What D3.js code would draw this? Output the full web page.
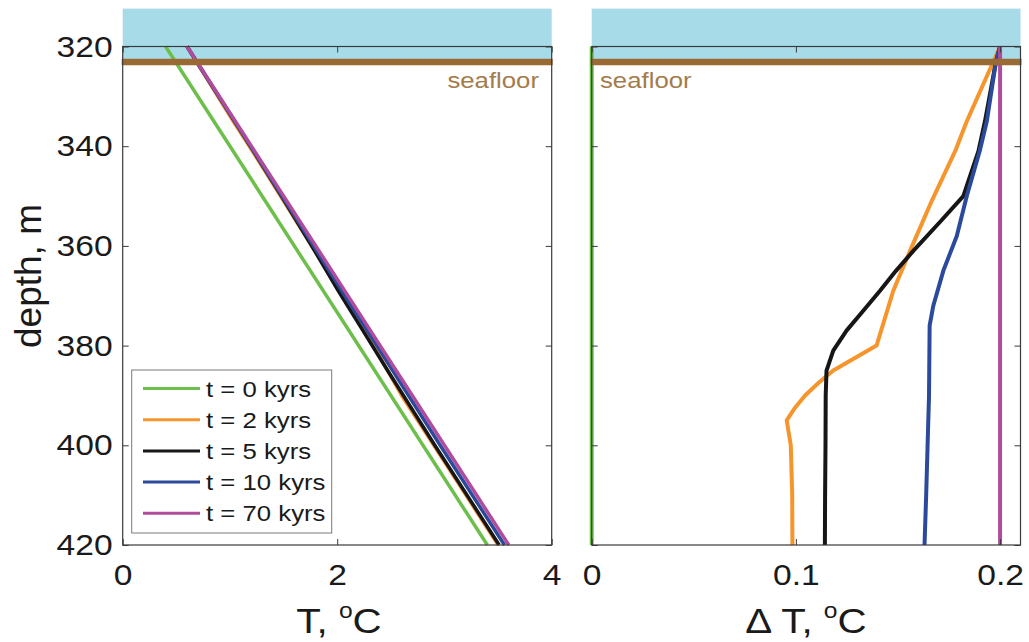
<!DOCTYPE html>
<html>
<head>
<meta charset="utf-8">
<script src="https://cdn.jsdelivr.net/npm/d3@7"></script>
<style>
  html, body { margin: 0; padding: 0; background: #fff; }
  svg { display: block; font-family: "Liberation Sans", Arial, Helvetica, sans-serif; }
</style>
</head>
<body>
<svg id="chart" width="1029" height="642"></svg>
<script>
// ---- data -------------------------------------------------------------
const seriesNames = ["t = 0 kyrs", "t = 2 kyrs", "t = 5 kyrs", "t = 10 kyrs", "t = 70 kyrs"];
const seriesColors = ["#6cbf4a", "#f5952b", "#161616", "#2c4a9c", "#b04c9e"];

// temperature profiles T(z), °C
const depthT0 = [320, 420];
const temp0 = [0.40, 3.40];
const depthT2 = [320, 335, 341, 351, 361, 369, 380, 385, 390, 395, 400, 410, 420];
const temp2 = [0.60, 1.03, 1.21, 1.50, 1.79, 2.02, 2.34, 2.47, 2.60, 2.75, 2.90, 3.20, 3.50];
const depthT5 = [320, 341, 350, 361, 369, 377, 385, 400, 420];
const temp5 = [0.60, 1.22, 1.48, 1.79, 2.01, 2.24, 2.47, 2.91, 3.51];
const depthT10 = [320, 341, 358, 372, 376, 400, 420];
const temp10 = [0.60, 1.22, 1.72, 2.13, 2.25, 2.96, 3.56];
const depthT70 = [320, 420];
const temp70 = [0.60, 3.60];

// temperature anomaly profiles ΔT(z), °C
const depthD0 = [320, 420];
const dTemp0 = [0, 0];
const depthD2 = [320, 335, 341, 351, 361, 369, 380, 385, 387.5, 390, 392.5, 395, 400, 410, 420];
const dTemp2 = [0.2, 0.1837, 0.178, 0.1665, 0.1559, 0.1477, 0.1395, 0.1183, 0.111, 0.1045, 0.0995, 0.0955, 0.0975, 0.0982, 0.0983];
const depthD5 = [320, 323, 335, 341, 350, 355, 361, 365, 369, 373, 377, 381, 385, 390, 400, 410, 420];
const dTemp5 = [0.2, 0.198, 0.1926, 0.1894, 0.182, 0.171, 0.1575, 0.149, 0.1412, 0.133, 0.1248, 0.1183, 0.115, 0.1146, 0.1145, 0.1143, 0.1142];
const depthD10 = [320, 323, 335, 341, 350, 358, 365, 372, 376, 390, 400, 410, 420];
const dTemp10 = [0.2, 0.198, 0.1935, 0.19, 0.1837, 0.1788, 0.1722, 0.1673, 0.1655, 0.1652, 0.1645, 0.1638, 0.163];
const depthD70 = [320, 420];
const dTemp70 = [0.2, 0.2];

const depthTicks = [320, 340, 360, 380, 400, 420];
const tempTicks = [0, 2, 4];
const dTempTicks = [0, 0.1, 0.2];

const waterTop = 312.4;      // depth of upper edge of the water band
const seafloorDepth = 323.1; // seafloor level, m

// ---- layout -----------------------------------------------------------
const SX = 1.12; // horizontal text aspect
const svg = d3.select("#chart");
const yTop = 46.5, yBot = 545;
const panelL = { x0: 122.7, x1: 551.7 };
const panelR = { x0: 591.7, x1: 1020.5 };

const y = d3.scaleLinear().domain([320, 420]).range([yTop, yBot]);
const xL = d3.scaleLinear().domain([0, 4]).range([panelL.x0, panelL.x1]);
const xR = d3.scaleLinear().domain([0, 0.21]).range([panelR.x0, panelR.x1]);

const tempSeries = [
  [depthT0, temp0], [depthT2, temp2], [depthT5, temp5], [depthT10, temp10], [depthT70, temp70]
];
const dTempSeries = [
  [depthD0, dTemp0], [depthD2, dTemp2], [depthD5, dTemp5], [depthD10, dTemp10], [depthD70, dTemp70]
];

function addText(g, x, yy, str, size, anchor, color) {
  return g.append("text")
    .attr("transform", `translate(${x},${yy}) scale(${SX},1)`)
    .attr("text-anchor", anchor)
    .attr("font-size", size)
    .attr("fill", color || "#1a1a1a")
    .text(str);
}

function drawPanel(xs, series, opts) {
  const g = svg.append("g");
  const [xa, xb] = xs.range();

  // water column above seafloor
  g.append("rect")
    .attr("x", xa).attr("width", xb - xa)
    .attr("y", y(waterTop)).attr("height", y(seafloorDepth) - y(waterTop))
    .attr("fill", "#a8dbe8");

  // profiles
  const line = d3.line().x(d => xs(d[1])).y(d => y(d[0]));
  series.forEach(([dep, val], i) => {
    g.append("path")
      .datum(dep.map((d, j) => [d, val[j]]))
      .attr("d", line)
      .attr("fill", "none")
      .attr("stroke", seriesColors[i])
      .attr("stroke-width", opts.lineWidth)
      .attr("stroke-linejoin", "round");
  });

  // seafloor
  g.append("line")
    .attr("x1", xa - 1).attr("x2", xb + 1)
    .attr("y1", y(seafloorDepth)).attr("y2", y(seafloorDepth))
    .attr("stroke", "#9a6a34").attr("stroke-width", 6.5);
  addText(g, opts.sfX, 88, "seafloor", 23, opts.sfAnchor, "#a47b4b");

  // axis box
  g.append("rect")
    .attr("x", xa).attr("y", yTop).attr("width", xb - xa).attr("height", yBot - yTop)
    .attr("fill", "none").attr("stroke", "#3a3a3a").attr("stroke-width", 1.2);

  const tk = 6;
  const styleAxis = a => {
    a.select(".domain").remove();
    a.selectAll(".tick line").attr("stroke", "#3a3a3a").attr("stroke-width", 1);
    a.selectAll(".tick text")
      .attr("font-size", 30)
      .attr("fill", "#1a1a1a")
      .attr("font-family", "Liberation Sans, Arial, sans-serif");
  };

  const bottom = g.append("g").attr("transform", `translate(0,${yBot})`)
    .call(d3.axisBottom(xs).tickValues(opts.xTicks).tickFormat(d3.format("~g"))
      .tickSize(-tk).tickPadding(19));
  styleAxis(bottom);
  bottom.selectAll(".tick text").attr("transform", `scale(${SX},1)`);

  const top = g.append("g").attr("transform", `translate(0,${yTop})`)
    .call(d3.axisTop(xs).tickValues(opts.xTicks).tickFormat("").tickSize(-tk));
  styleAxis(top);

  const left = g.append("g").attr("transform", `translate(${xa},0)`)
    .call(d3.axisLeft(y).tickValues(depthTicks)
      .tickFormat(opts.yLabels ? d3.format("d") : "").tickSize(-tk).tickPadding(9));
  styleAxis(left);
  left.selectAll(".tick text").attr("transform", `scale(${SX},1)`);

  const right = g.append("g").attr("transform", `translate(${xb},0)`)
    .call(d3.axisRight(y).tickValues(depthTicks).tickFormat("").tickSize(-tk));
  styleAxis(right);

  return g;
}

const gL = drawPanel(xL, tempSeries, {
  xTicks: tempTicks, yLabels: true, lineWidth: 3.5, sfX: 539, sfAnchor: "end"
});
const gR = drawPanel(xR, dTempSeries, {
  xTicks: dTempTicks, yLabels: false, lineWidth: 4, sfX: 600, sfAnchor: "start"
});

// axis titles
function degLabel(x, yy, prefix) {
  const t = svg.append("text")
    .attr("transform", `translate(${x},${yy}) scale(${SX},1)`)
    .attr("text-anchor", "middle")
    .attr("font-size", 36)
    .attr("fill", "#1a1a1a");
  t.append("tspan").text(prefix);
  t.append("tspan").attr("font-size", 22).attr("dy", -15).text("o");
  t.append("tspan").attr("dy", 15).text("C");
}
degLabel(339, 633, "T, ");
degLabel(806, 633, "\u0394 T, ");

svg.append("text")
  .attr("transform", `translate(41,276) rotate(-90)`)
  .attr("text-anchor", "middle")
  .attr("font-size", 37)
  .attr("fill", "#1a1a1a")
  .text("depth, m");

// legend
const leg = svg.append("g");
leg.append("rect")
  .attr("x", 131.7).attr("y", 370).attr("width", 200).attr("height", 163)
  .attr("fill", "#fff").attr("stroke", "#7a7a7a").attr("stroke-width", 1);
seriesNames.forEach((name, i) => {
  const yy = 388.5 + i * 31.2;
  leg.append("line")
    .attr("x1", 143).attr("x2", 200).attr("y1", yy).attr("y2", yy)
    .attr("stroke", seriesColors[i]).attr("stroke-width", 3);
  addText(leg, 206, yy + 8, name, 23, "start");
});
</script>
</body>
</html>
